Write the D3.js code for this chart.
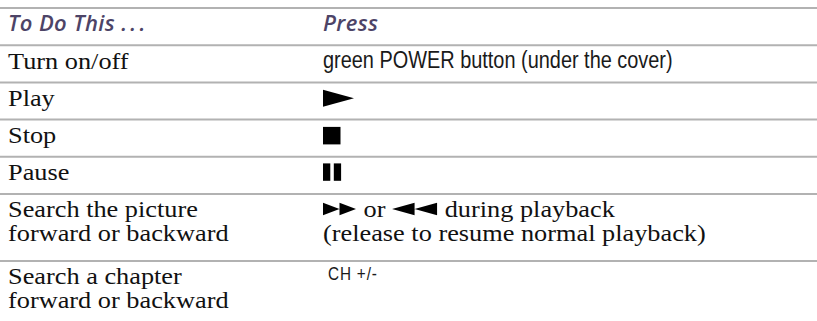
<!DOCTYPE html>
<html>
<head>
<meta charset="utf-8">
<script src="https://cdn.jsdelivr.net/npm/d3@7"></script>
<style>
  html, body { margin: 0; padding: 0; background: #fff; }
  svg { display: block; }
</style>
</head>
<body>
<svg id="chart" width="817" height="321"></svg>
<script>
// ---- data ----
const headers = ["To Do This ...", "Press"];
const actions = [
  ["Turn on/off"],
  ["Play"],
  ["Stop"],
  ["Pause"],
  ["Search the picture", "forward or backward"],
  ["Search a chapter", "forward or backward"]
];
// {token} = drawn button symbol
const presses = [
  ["green POWER button (under the cover)"],
  ["{play}"],
  ["{stop}"],
  ["{pause}"],
  ["{ff} or {rew} during playback", "(release to resume normal playback)"],
  ["CH +/-"]
];
const pressStyle = ["sans", "sym", "sym", "sym", "serif", "sanssmall"];

// ---- layout ----
const W = 817, H = 321;
const svg = d3.select("#chart");
const unitPx = 37.2;
const extraLine = 0.8; // units per additional text line
const rows = [{left: [headers[0]], right: [headers[1]], header: true}]
  .concat(actions.map((a, i) => ({left: a, right: presses[i], style: pressStyle[i]})));
let acc = 0;
rows.forEach(r => {
  r.start = acc;
  r.units = 1 + (Math.max(r.left.length, r.right.length) - 1) * extraLine;
  acc += r.units;
  r.end = acc;
});
const y = d3.scaleLinear().domain([0, 1]).range([8, 8 + unitPx]);
const x = d3.scaleOrdinal().domain(["left", "right"]).range([8, 323]);

const serifFont = "'Liberation Serif', 'DejaVu Serif', serif";
const serifSize = 23.5, serifScale = 1.12;
const sansFont = "'Liberation Sans', Arial, sans-serif";

// separator lines (top of each row)
svg.append("g").selectAll("line")
  .data(rows)
  .join("line")
  .attr("x1", 0).attr("x2", W)
  .attr("y1", d => y(d.start)).attr("y2", d => y(d.start))
  .attr("stroke", "#b2b2b2").attr("stroke-width", 2);

const baseOff = 23.3, lineGap = 24;

// header
const hdr = rows[0];
const hTexts = svg.append("g").selectAll("text")
  .data(headers)
  .join("text")
  .attr("x", (d, i) => x(i === 0 ? "left" : "right"))
  .attr("y", y(hdr.start) + baseOff)
  .attr("font-family", "'Open Sans', 'Noto Sans', sans-serif")
  .attr("font-style", "italic")
  .attr("font-weight", 600)
  .attr("font-size", 22)
  .attr("letter-spacing", 0.4)
  .attr("fill", "#4d4467");
hTexts.each(function (d) {
  const el = d3.select(this);
  d.split(/(\.+)/).filter(s => s.length).forEach(seg => {
    const ts = el.append("tspan").text(seg);
    if (/^\.+$/.test(seg)) ts.attr("letter-spacing", 3.2);
  });
});

const body = rows.slice(1);

function serifText(g, str, x0, b) {
  const t = g.append("text")
    .attr("transform", `translate(${x0},${b}) scale(${serifScale},1)`)
    .attr("font-family", serifFont)
    .attr("font-size", serifSize)
    .attr("fill", "#111")
    .attr("xml:space", "preserve")
    .style("white-space", "pre")
    .text(str);
  return t.node().getComputedTextLength() * serifScale;
}

// left column
const leftG = svg.append("g");
body.forEach(r => {
  r.left.forEach((t, j) => {
    serifText(leftG, t, x("left"), y(r.start) + baseOff + j * lineGap);
  });
});

// symbol painters (local coords: x0 left, baseline b); return advance width
function drawSym(g, name, x0, b) {
  const p = d3.path();
  if (name === "play") {
    p.moveTo(x0, b - 16); p.lineTo(x0 + 31, b - 7.5); p.lineTo(x0, b + 1); p.closePath();
    g.append("path").attr("d", p.toString()).attr("fill", "#000");
    return 31;
  }
  if (name === "stop") {
    g.append("rect").attr("x", x0).attr("y", b - 16).attr("width", 17.5).attr("height", 17.5).attr("fill", "#000");
    return 17.5;
  }
  if (name === "pause") {
    g.append("rect").attr("x", x0).attr("y", b - 16.7).attr("width", 7.3).attr("height", 17.4).attr("fill", "#000");
    g.append("rect").attr("x", x0 + 10.8).attr("y", b - 16.7).attr("width", 7.3).attr("height", 17.4).attr("fill", "#000");
    return 18;
  }
  const top = b - 14.5, bot = b - 2, mid = (top + bot) / 2;
  const tw = name === "ff" ? 16.5 : 22.5;
  for (let k = 0; k < 2; k++) {
    const xs = x0 + k * tw;
    if (name === "ff") {
      p.moveTo(xs, top); p.lineTo(xs + tw, mid); p.lineTo(xs, bot); p.closePath();
    } else {
      p.moveTo(xs + tw, top); p.lineTo(xs, mid); p.lineTo(xs + tw, bot); p.closePath();
    }
  }
  g.append("path").attr("d", p.toString()).attr("fill", "#000");
  return 2 * tw + 1;
}

// right column
const rightG = svg.append("g");
body.forEach(r => {
  r.right.forEach((line, j) => {
    const b = y(r.start) + baseOff + j * lineGap;
    if (r.style === "sans" || r.style === "sanssmall") {
      const small = r.style === "sanssmall";
      rightG.append("text")
        .attr("transform", `translate(${x("right") + (small ? 5 : 0)},${b - (small ? 4.5 : 1)}) scale(${small ? 0.85 : 0.866},1)`)
        .attr("font-family", sansFont)
        .attr("font-size", small ? 18 : 23)
        .attr("letter-spacing", small ? 1 : 0)
        .attr("fill", "#1a1a1a")
        .text(line);
      return;
    }
    // tokenized line: symbols + serif text
    const parts = line.split(/(\{[a-z]+\})/).filter(s => s.length);
    let cx = x("right");
    parts.forEach(part => {
      const m = part.match(/^\{([a-z]+)\}$/);
      if (m) cx += drawSym(rightG, m[1], cx, b);
      else cx += serifText(rightG, part, cx, b);
    });
  });
});
</script>
</body>
</html>
